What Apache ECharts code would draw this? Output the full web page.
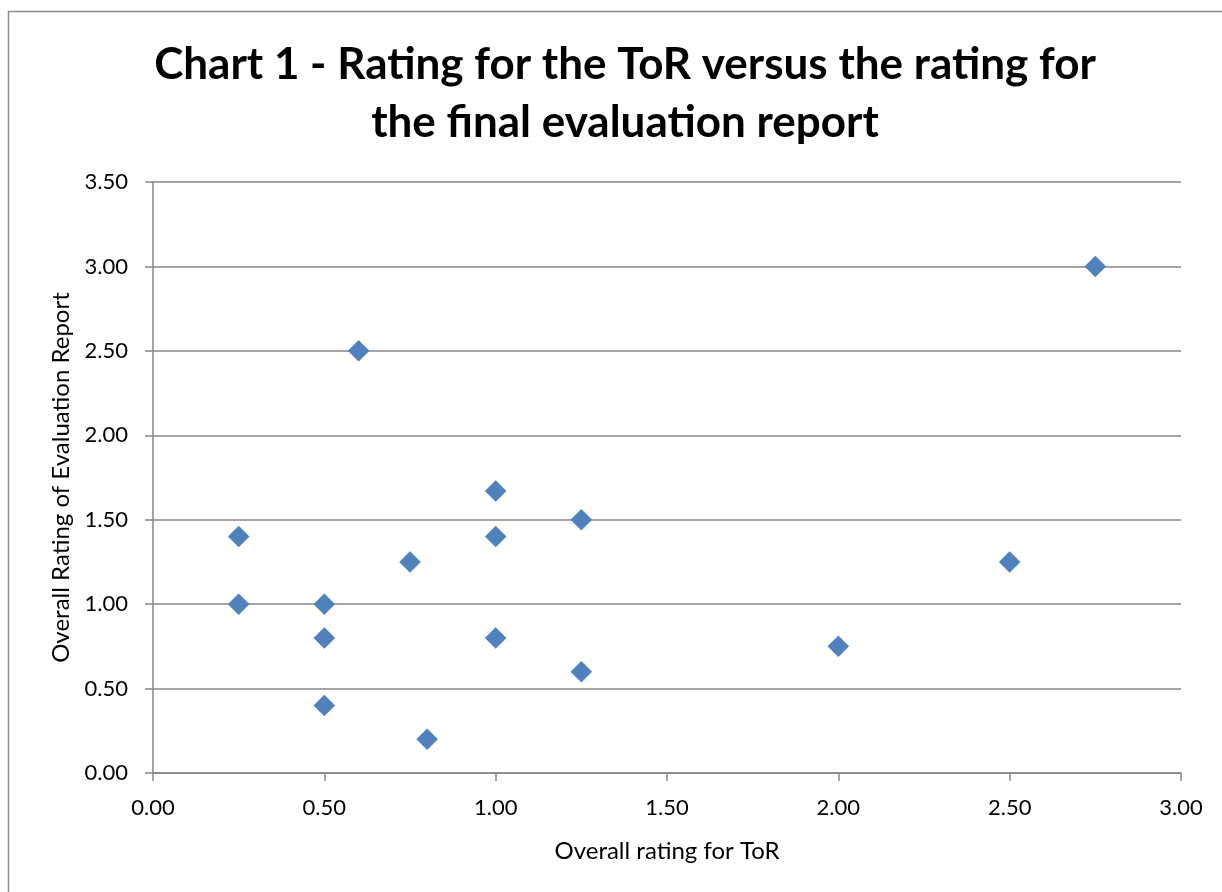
<!DOCTYPE html>
<html><head><meta charset="utf-8">
<script src="https://cdn.jsdelivr.net/npm/echarts@6/dist/echarts.min.js"></script>
<style>html,body{margin:0;padding:0;background:#fff}#c{width:1222px;height:892px}</style>
</head><body><div id="c"></div>
<script>
const torRating = [0.25, 0.25, 0.50, 0.50, 0.50, 0.60, 0.75, 0.80, 1.00, 1.00, 1.00, 1.25, 1.25, 2.00, 2.50, 2.75];
const reportRating = [1.40, 1.00, 1.00, 0.80, 0.40, 2.50, 1.25, 0.20, 1.67, 1.40, 0.80, 1.50, 0.60, 0.75, 1.25, 3.00];
const titleText = 'Chart 1 - Rating for the ToR versus the rating for\nthe final evaluation report';
const xName = 'Overall rating for ToR';
const yName = 'Overall Rating of Evaluation Report';

const points = torRating.map((x, i) => [x, reportRating[i]]);
const font = 'Lato, "Open Sans", sans-serif';
const chart = echarts.init(document.getElementById('c'));
chart.setOption({
  animation: false,
  backgroundColor: '#fff',
  graphic: [{type: 'rect', shape: {x: 8.5, y: 11.5, width: 1240, height: 900}, style: {fill: 'none', stroke: '#8c8c8c', lineWidth: 1.5}, silent: true}],
  title: {text: titleText, left: 620, top: 31, textAlign: 'center',
    textStyle: {fontFamily: font, fontWeight: 'bold', fontSize: 44, color: '#000', lineHeight: 58}},
  grid: {left: 153, right: 41, top: 182, bottom: 119},
  xAxis: {type: 'value', min: 0, max: 3, interval: 0.5,
    name: xName, nameLocation: 'middle', nameGap: 66,
    nameTextStyle: {fontFamily: font, fontSize: 24, color: '#000'},
    axisLine: {show: true, lineStyle: {color: '#868686', width: 1.5}},
    axisTick: {show: true, length: 8, lineStyle: {color: '#868686', width: 1.5}},
    axisLabel: {fontFamily: font, fontSize: 22, color: '#000', margin: 24, formatter: v => v.toFixed(2)},
    splitLine: {show: false}},
  yAxis: {type: 'value', min: 0, max: 3.5, interval: 0.5,
    name: yName, nameLocation: 'middle', nameGap: 80, nameRotate: 90,
    nameTextStyle: {fontFamily: font, fontSize: 24, color: '#000'},
    axisLine: {show: true, lineStyle: {color: '#868686', width: 1.5}},
    axisTick: {show: true, length: 8, lineStyle: {color: '#868686', width: 1.5}},
    axisLabel: {fontFamily: font, fontSize: 22, color: '#000', margin: 25, formatter: v => v.toFixed(2)},
    splitLine: {show: true, lineStyle: {color: '#868686', width: 1.5}}},
  series: [{type: 'scatter', data: points, symbol: 'diamond', symbolSize: 21,
    itemStyle: {color: '#4F81BD', opacity: 1, borderColor: '#4A7EBB', borderWidth: 0.5}}]
});
</script></body></html>
